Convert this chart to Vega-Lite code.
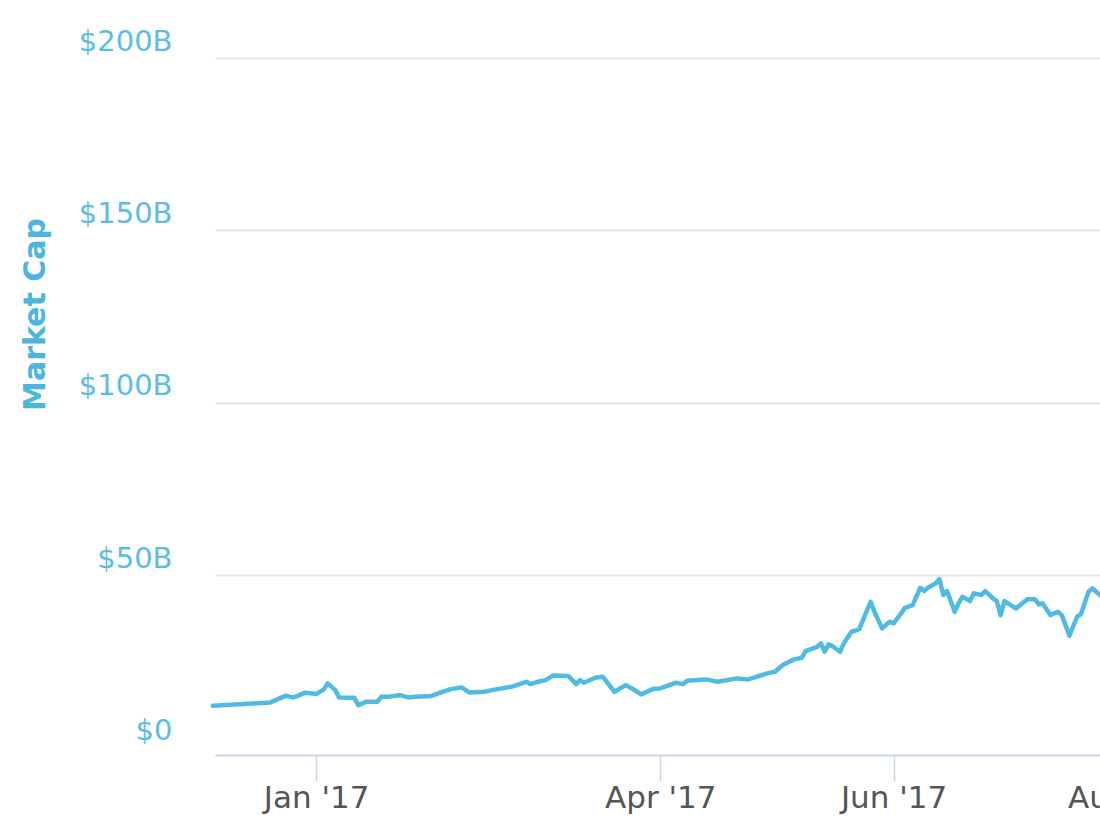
{
  "$schema": "https://vega.github.io/schema/vega-lite/v6.json",
  "autosize": {"type": "none"},
  "padding": {"left": 215, "top": 58, "right": -40, "bottom": 71},
  "width": 925,
  "height": 697,
  "background": "#ffffff",
  "config": {"view": {"stroke": null}, "font": "DejaVu Sans"},
  "data": {
    "values": [
      {"date": "2016-12-05", "cap": 12.07},
      {"date": "2016-12-13", "cap": 12.57},
      {"date": "2016-12-20", "cap": 13.06},
      {"date": "2016-12-22", "cap": 14.02},
      {"date": "2016-12-24", "cap": 14.97},
      {"date": "2016-12-26", "cap": 14.51},
      {"date": "2016-12-27", "cap": 14.89},
      {"date": "2016-12-29", "cap": 15.84},
      {"date": "2016-12-31", "cap": 15.67},
      {"date": "2017-01-01", "cap": 15.47},
      {"date": "2017-01-03", "cap": 16.83},
      {"date": "2017-01-04", "cap": 18.57},
      {"date": "2017-01-06", "cap": 16.63},
      {"date": "2017-01-07", "cap": 14.51},
      {"date": "2017-01-11", "cap": 14.39},
      {"date": "2017-01-12", "cap": 12.27},
      {"date": "2017-01-14", "cap": 13.23},
      {"date": "2017-01-17", "cap": 13.23},
      {"date": "2017-01-18", "cap": 14.68},
      {"date": "2017-01-20", "cap": 14.68},
      {"date": "2017-01-23", "cap": 15.18},
      {"date": "2017-01-25", "cap": 14.51},
      {"date": "2017-01-27", "cap": 14.68},
      {"date": "2017-01-31", "cap": 14.89},
      {"date": "2017-02-03", "cap": 16.13},
      {"date": "2017-02-05", "cap": 16.83},
      {"date": "2017-02-08", "cap": 17.41},
      {"date": "2017-02-10", "cap": 15.96},
      {"date": "2017-02-14", "cap": 16.13},
      {"date": "2017-02-17", "cap": 16.83},
      {"date": "2017-02-21", "cap": 17.59},
      {"date": "2017-02-25", "cap": 19.04},
      {"date": "2017-02-26", "cap": 18.37},
      {"date": "2017-02-28", "cap": 19.04},
      {"date": "2017-03-02", "cap": 19.53},
      {"date": "2017-03-04", "cap": 20.89},
      {"date": "2017-03-08", "cap": 20.69},
      {"date": "2017-03-10", "cap": 18.37},
      {"date": "2017-03-11", "cap": 19.53},
      {"date": "2017-03-12", "cap": 18.75},
      {"date": "2017-03-15", "cap": 20.20},
      {"date": "2017-03-17", "cap": 20.49},
      {"date": "2017-03-20", "cap": 16.13},
      {"date": "2017-03-23", "cap": 18.08},
      {"date": "2017-03-25", "cap": 16.83},
      {"date": "2017-03-27", "cap": 15.38},
      {"date": "2017-03-30", "cap": 16.92},
      {"date": "2017-04-01", "cap": 17.12},
      {"date": "2017-04-05", "cap": 18.75},
      {"date": "2017-04-07", "cap": 18.37},
      {"date": "2017-04-08", "cap": 19.33},
      {"date": "2017-04-13", "cap": 19.73},
      {"date": "2017-04-16", "cap": 19.04},
      {"date": "2017-04-21", "cap": 20.02},
      {"date": "2017-04-24", "cap": 19.73},
      {"date": "2017-04-29", "cap": 21.47},
      {"date": "2017-05-01", "cap": 21.94},
      {"date": "2017-05-03", "cap": 23.88},
      {"date": "2017-05-06", "cap": 25.54},
      {"date": "2017-05-08", "cap": 26.00},
      {"date": "2017-05-09", "cap": 27.95},
      {"date": "2017-05-12", "cap": 29.19},
      {"date": "2017-05-13", "cap": 30.18},
      {"date": "2017-05-14", "cap": 27.74},
      {"date": "2017-05-15", "cap": 29.89},
      {"date": "2017-05-16", "cap": 29.40},
      {"date": "2017-05-18", "cap": 27.74},
      {"date": "2017-05-19", "cap": 30.18},
      {"date": "2017-05-21", "cap": 33.55},
      {"date": "2017-05-23", "cap": 34.24},
      {"date": "2017-05-26", "cap": 42.25},
      {"date": "2017-05-27", "cap": 39.35},
      {"date": "2017-05-29", "cap": 34.53},
      {"date": "2017-05-31", "cap": 36.45},
      {"date": "2017-06-01", "cap": 35.98},
      {"date": "2017-06-03", "cap": 38.89},
      {"date": "2017-06-04", "cap": 40.51},
      {"date": "2017-06-06", "cap": 41.29},
      {"date": "2017-06-08", "cap": 46.31},
      {"date": "2017-06-09", "cap": 45.36},
      {"date": "2017-06-10", "cap": 46.31},
      {"date": "2017-06-12", "cap": 47.59},
      {"date": "2017-06-13", "cap": 48.84},
      {"date": "2017-06-14", "cap": 44.20},
      {"date": "2017-06-15", "cap": 45.36},
      {"date": "2017-06-17", "cap": 39.35},
      {"date": "2017-06-18", "cap": 41.79},
      {"date": "2017-06-19", "cap": 43.70},
      {"date": "2017-06-21", "cap": 42.46},
      {"date": "2017-06-22", "cap": 44.69},
      {"date": "2017-06-24", "cap": 44.20},
      {"date": "2017-06-25", "cap": 45.36},
      {"date": "2017-06-27", "cap": 43.24},
      {"date": "2017-06-28", "cap": 42.46},
      {"date": "2017-06-29", "cap": 38.39},
      {"date": "2017-06-30", "cap": 42.46},
      {"date": "2017-07-03", "cap": 40.34},
      {"date": "2017-07-06", "cap": 42.95},
      {"date": "2017-07-08", "cap": 42.95},
      {"date": "2017-07-09", "cap": 41.50},
      {"date": "2017-07-10", "cap": 41.79},
      {"date": "2017-07-12", "cap": 38.39},
      {"date": "2017-07-14", "cap": 39.35},
      {"date": "2017-07-15", "cap": 38.39},
      {"date": "2017-07-17", "cap": 32.39},
      {"date": "2017-07-19", "cap": 37.90},
      {"date": "2017-07-20", "cap": 38.60},
      {"date": "2017-07-22", "cap": 45.15},
      {"date": "2017-07-23", "cap": 46.14},
      {"date": "2017-07-24", "cap": 45.15},
      {"date": "2017-07-26", "cap": 43.24}
    ]
  },
  "mark": {"type": "line", "color": "#4fbbe4", "strokeWidth": 4.5, "strokeJoin": "round", "strokeCap": "round"},
  "encoding": {
    "x": {
      "field": "date",
      "type": "temporal",
      "scale": {
        "type": "utc",
        "nice": false,
        "domain": [
          {"year": 2016, "month": 12, "date": 5, "hours": 13, "utc": true},
          {"year": 2017, "month": 8, "date": 4, "hours": 11, "utc": true}
        ]
      },
      "axis": {
        "title": null,
        "grid": false,
        "values": [
          {"year": 2017, "month": 1, "date": 1, "utc": true},
          {"year": 2017, "month": 4, "date": 1, "utc": true},
          {"year": 2017, "month": 6, "date": 1, "utc": true},
          {"year": 2017, "month": 8, "date": 1, "utc": true}
        ],
        "format": "%b '%y",
        "domainColor": "#ccd6eb",
        "domainWidth": 2,
        "tickColor": "#ccd6eb",
        "tickWidth": 1.5,
        "tickSize": 26,
        "labelPadding": 26,
        "labelBaseline": "alphabetic",
        "labelFontSize": 31,
        "labelColor": "#555555",
        "labelFlush": false,
        "labelOverlap": false,
        "offset": 0
      }
    },
    "y": {
      "field": "cap",
      "type": "quantitative",
      "scale": {"domain": [-2.2, 200], "nice": false, "zero": false},
      "axis": {
        "title": "Market Cap",
        "titleFontSize": 30,
        "titleFontWeight": "bold",
        "titleColor": "#4cb5e0",
        "titleAngle": 270,
        "titleAlign": "center",
        "titleBaseline": "middle",
        "titleX": -180,
        "titleY": 256,
        "values": [0, 50, 100, 150, 200],
        "labelExpr": "datum.value == 0 ? '$0' : '$' + datum.value + 'B'",
        "labelFontSize": 29,
        "labelColor": "#5bbde6",
        "labelPadding": 43,
        "labelOffset": -17,
        "labelBaseline": "middle",
        "domain": false,
        "ticks": false,
        "gridColor": {"condition": {"test": "datum.value == 0", "value": "rgba(0,0,0,0)"}, "value": "#e6e6e6"},
        "gridWidth": 2
      }
    }
  }
}
